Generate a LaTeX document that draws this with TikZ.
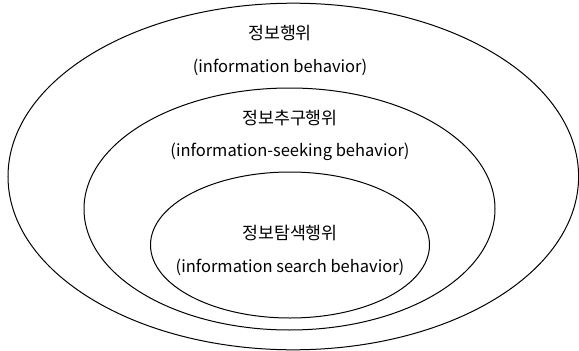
\documentclass[tikz,border=0pt]{standalone}
\usepackage{fontspec}
\setmainfont{Noto Sans CJK KR}
\begin{document}
\begin{tikzpicture}[x=1pt,y=-1pt,
  ring/.style={draw=black,line width=1pt},
  kor/.style={font=\fontsize{17.3}{21}\selectfont,inner sep=0pt,anchor=center},
  lbl/.style={font=\fontsize{16.5}{20}\selectfont,inner sep=0pt,anchor=center}]
\useasboundingbox (0,0) rectangle (579,351);
\draw[ring] (293.3,176.5) ellipse [x radius=285.3, y radius=173.3];
\draw[ring] (289.5,209) ellipse [x radius=205.5, y radius=121];
\draw[ring] (290,245) ellipse [x radius=139.5, y radius=73];
\node[kor] (t1) at (280,33) {정보행위};
\node[lbl] (e1) at (280,67) {(information behavior)};
\node[kor] (t2) at (290,118) {정보추구행위};
\node[lbl] (e2) at (290,152) {(information-seeking behavior)};
\node[kor] (t3) at (290,233) {정보탐색행위};
\node[lbl] (e3) at (290,267) {(information search behavior)};
\end{tikzpicture}
\end{document}
